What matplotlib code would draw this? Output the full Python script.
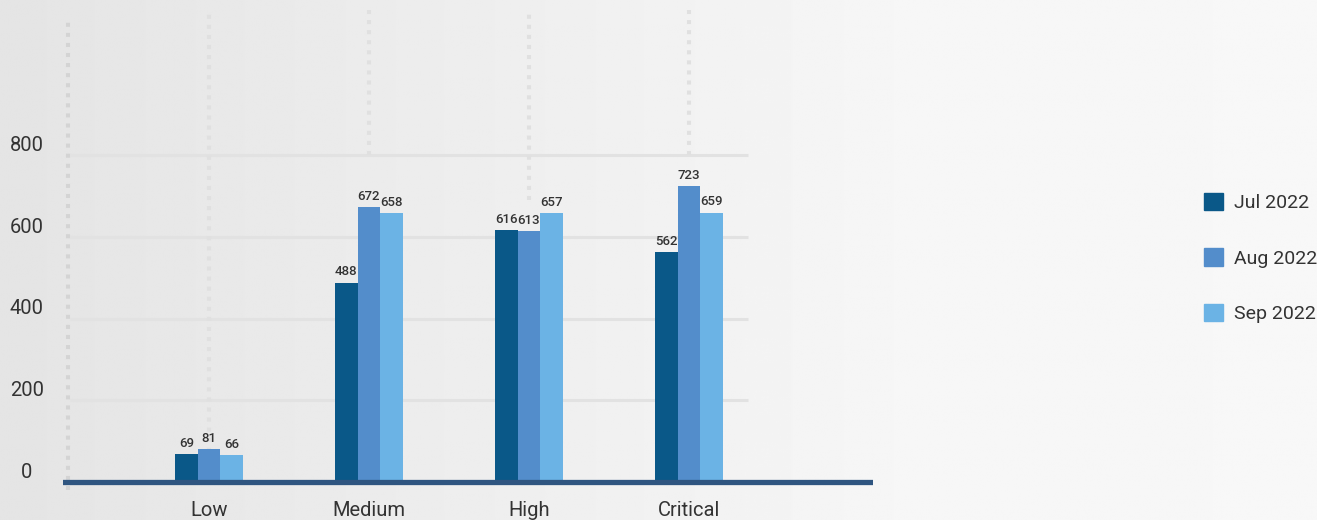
import numpy as np
import matplotlib
matplotlib.use("Agg")
import matplotlib.pyplot as plt
from matplotlib.patches import Patch

# chart data
categories = ["Low", "Medium", "High", "Critical"]
months = ["Jul 2022", "Aug 2022", "Sep 2022"]
jul_2022 = [69, 488, 616, 562]
aug_2022 = [81, 672, 613, 723]
sep_2022 = [66, 658, 657, 659]
y_ticks = [0, 200, 400, 600, 800]

colors = ["#0A5888", "#538DCB", "#6BB3E5"]
text_color = "#333333"

plt.rcParams["font.family"] = ["Roboto", "DejaVu Sans"]

W, H, DPI = 1317, 520, 100
fig = plt.figure(figsize=(W / DPI, H / DPI), dpi=DPI)

# soft grey gradient behind everything
bg = fig.add_axes([0, 0, 1, 1], zorder=-10)
xs = np.linspace(0, 1, 600)
shade = np.interp(xs, [0, 0.68, 1], [0.895, 0.965, 0.97])
bg.imshow(np.tile(shade, (10, 1)), cmap="gray", vmin=0, vmax=1,
          aspect="auto", extent=[0, 1, 0, 1])
bg.axis("off")

# axes placed in pixel terms
left_px, right_px, top_px, bot_px = 63, 873, 10, 495
ax = fig.add_axes([left_px / W, 1 - bot_px / H,
                   (right_px - left_px) / W, (bot_px - top_px) / H])
ax.set_facecolor("none")

px_per_unit = 327 / 800  # y scale: 800 -> 327 px
zero_px = 482
ax.set_ylim(-(bot_px - zero_px) / px_per_unit, (zero_px - top_px) / px_per_unit)
ax.set_xlim(-(209 - left_px) / 160, (right_px - 209) / 160)

x = np.arange(len(categories))
bw = 0.142

# grid lines
ax.hlines(y_ticks[1:], -0.87, 3.37, color="#E2E2E2", lw=2.2, zorder=1)

# dotted vertical guides
ytop = ax.get_ylim()[1]
ax.vlines([-0.88], -19, 1130, color="#D4D4D4", lw=2.9,
          linestyles=[(0, (1, 1.5))], zorder=1)
dot_ends = [0, 800, 690, 800]
for xi, e in zip(x, dot_ends):
    ax.vlines(xi, e, ytop, color="#E0E0E0", lw=2.9,
              linestyles=[(0, (1, 1.5))], zorder=1)

series = [jul_2022, aug_2022, sep_2022]
for i, (vals, c, m) in enumerate(zip(series, colors, months)):
    bars = ax.bar(x + (i - 1) * bw, vals, bw, color=c, label=m, zorder=3)
    ax.bar_label(bars, padding=3, fontsize=9.5, color=text_color,
                 fontweight="medium")

# baseline
ax.axhline(0, color="#2F5580", lw=3.8, zorder=4)

for s in ax.spines.values():
    s.set_visible(False)

ax.set_xticks(x)
ax.set_xticklabels(categories, fontsize=14.5, color=text_color)
ax.tick_params(axis="x", length=0, pad=4)

ax.set_yticks(y_ticks)
ax.set_yticklabels([str(t) for t in y_ticks], fontsize=14.5, color=text_color)
ax.tick_params(axis="y", length=0, pad=26)
for lab in ax.get_yticklabels():
    lab.set_horizontalalignment("center")
    lab.set_verticalalignment("bottom")

handles = [Patch(color=c, label=m) for c, m in zip(colors, months)]
fig.legend(handles=handles, loc="center left",
           bbox_to_anchor=(1194 / W, 1 - 258 / H), frameon=False,
           prop={"size": 14},
           handlelength=1.0, handleheight=1.0,
           handletextpad=0.55, labelspacing=1.85, borderpad=0,
           labelcolor=text_color)

fig.savefig("out.png", dpi=DPI)
